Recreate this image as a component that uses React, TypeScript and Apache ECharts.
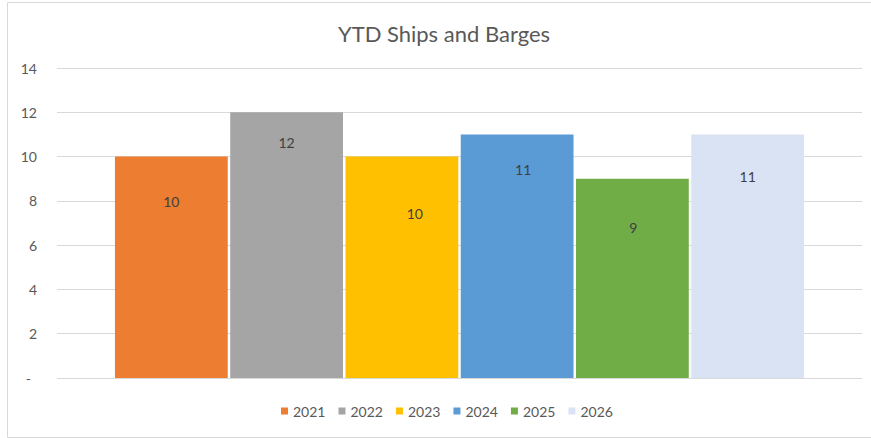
import React, { useEffect, useRef } from "react";
import * as echarts from "echarts";

const categories = ["YTD"];
const seriesNames = ["2021", "2022", "2023", "2024", "2025", "2026"];
const seriesValues = [10, 12, 10, 11, 9, 11];
const yTicks = [0, 2, 4, 6, 8, 10, 12, 14];

const colors = ["#ED7D31", "#A5A5A5", "#FFC000", "#5B9BD5", "#70AD47", "#DAE3F3"];
const labelOffsets = [
  [0, 33],
  [0, 18],
  [13, 45],
  [6, 23],
  [1, 37],
  [0, 30],
];

const FONT = "Lato, 'Liberation Sans', sans-serif";

export default function App() {
  const ref = useRef<HTMLDivElement>(null);
  useEffect(() => {
    if (!ref.current) return;
    const chart = echarts.init(ref.current, null, { renderer: "svg" });
    chart.setOption({
      animation: false,
      backgroundColor: "#FFFFFF",
      textStyle: { fontFamily: FONT },
      graphic: [
        {
          type: "rect",
          shape: { x: 7.5, y: 2.5, width: 880, height: 435 },
          style: { fill: "none", stroke: "#D9D9D9", lineWidth: 1 },
          silent: true,
        },
        {
          type: "text",
          x: 444,
          y: 33,
          style: {
            text: "YTD Ships and Barges",
            fontFamily: FONT,
            fontSize: 22,
            fill: "#595959",
            align: "center",
            verticalAlign: "middle",
          },
        },
      ],
      legend: {
        data: seriesNames,
        icon: "rect",
        itemWidth: 7,
        itemHeight: 7,
        itemGap: 13,
        left: 281,
        top: 404,
        padding: 0,
        textStyle: { color: "#595959", fontSize: 14, fontFamily: FONT },
      },
      grid: { left: 57, right: 9, top: 68, bottom: 60, containLabel: false },
      xAxis: {
        type: "category",
        data: categories,
        axisLine: { show: false },
        axisTick: { show: false },
        axisLabel: { show: false },
      },
      yAxis: {
        type: "value",
        min: yTicks[0],
        max: yTicks[yTicks.length - 1],
        interval: yTicks[1] - yTicks[0],
        axisLine: { show: false },
        axisTick: { show: false },
        splitLine: { lineStyle: { color: "#D9D9D9", width: 1 } },
        axisLabel: {
          margin: 20,
          color: "#595959",
          fontSize: 14,
          fontFamily: FONT,
          formatter: (v: number) => (v === 0 ? "{d|-}" : String(v)),
          rich: { d: { padding: [0, 6, 0, 0], color: "#595959", fontSize: 14 } },
        },
      },
      series: seriesNames.map((name, i) => ({
        name,
        type: "bar",
        data: [seriesValues[i]],
        barCategoryGap: "14.4%",
        barGap: "2.2%",
        itemStyle: { color: colors[i] },
        label: {
          show: true,
          position: "insideTop",
          offset: labelOffsets[i],
          color: "#404040",
          fontSize: 14,
          fontFamily: FONT,
        },
      })),
    });
    return () => chart.dispose();
  }, []);
  return (
    <div
      ref={ref}
      style={{ position: "fixed", left: 0, top: 0, width: 871, height: 438 }}
    />
  );
}
